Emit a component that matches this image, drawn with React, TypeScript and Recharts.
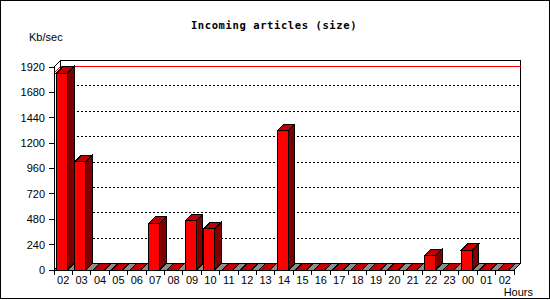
import React from 'react';
import { BarChart, Bar, XAxis, YAxis, CartesianGrid, ReferenceArea, ReferenceLine } from 'recharts';

const hours = ['02','03','04','05','06','07','08','09','10','11','12','13','14','15','16','17','18','19','20','21','22','23','00','01','02'];
const sizeKbps = [1863,1024,0,0,0,441,0,466,391,0,0,0,1315,0,0,0,0,0,0,0,135,0,186,0,0];
const yTicks = [0,240,480,720,960,1200,1440,1680,1920];

const data = hours.map((h, i) => ({ hour: h, size: sizeKbps[i] }));
const maxVal = Math.max(...sizeKbps);

const W = 550;
const H = 300;
const D = 6.5;
const PLOT_W = 460;
const BAND = PLOT_W / hours.length;
const FONT = '"Liberation Sans", Arial, sans-serif';

const FRONT = '#ff0000';
const TOP = '#c00000';
const SIDE = '#800000';
const FLOOR = '#8c8c8c';

function Bar3D(props: any) {
  const { x, y, width, height } = props;
  if (x == null || y == null) return null;
  const x0 = x - 1.5;
  const w = width;
  const h = Math.max(0, height || 0);
  const top = `${x0},${y} ${x0 + D},${y - D} ${x0 + w + D},${y - D} ${x0 + w},${y}`;
  const side = `${x0 + w},${y} ${x0 + w + D},${y - D} ${x0 + w + D},${y + h - D} ${x0 + w},${y + h}`;
  return (
    <g>
      {h > 0 && <polygon points={side} fill={SIDE} stroke="#000" strokeWidth={1} />}
      <polygon points={top} fill={TOP} stroke="#000" strokeWidth={1} />
      {h > 0 && <rect x={x0} y={y} width={w} height={h} fill={FRONT} stroke="#000" strokeWidth={1} />}
    </g>
  );
}

function Frame3D(props: any) {
  const { x, y, width, height } = props;
  const b = y + height;
  const floor = `${x},${b} ${x + width},${b} ${x + width + D},${b - D} ${x + D},${b - D}`;
  return (
    <g>
      <polygon points={floor} fill={FLOOR} stroke="#000" strokeWidth={1} />
      <line x1={x + D} y1={y - D} x2={x + width + D} y2={y - D} stroke="#000" />
      <line x1={x + width + D} y1={y - D} x2={x + width + D} y2={b - D} stroke="#000" />
      <line x1={x + D} y1={y - D} x2={x + D} y2={b - D} stroke="#000" />
      <line x1={x} y1={y} x2={x + D} y2={y - D} stroke="#000" />
    </g>
  );
}

function MaxLine(props: any) {
  const { x1, y1, x2, y2 } = props;
  return (
    <g>
      <line x1={x1} y1={y1} x2={x1 + D} y2={y1 - D} stroke="#ff0000" />
      <line x1={x1 + D} y1={y1 - D} x2={x2 + D} y2={y2 - D} stroke="#ff0000" />
    </g>
  );
}

function GridLine(props: any) {
  const { x1, y1, x2, y2, y, height, index } = props;
  if (Math.abs(y1 - y) < 1 || Math.abs(y1 - (y + height)) < 1) return <g key={`g${index}`} />;
  return (
    <line key={`g${index}`} x1={x1 + D} y1={y1 - D} x2={x2 + D} y2={y2 - D} stroke="#000" strokeDasharray="2 2" />
  );
}

function HourTick(props: any) {
  const { x, y, payload, index } = props;
  const axisY = y - 6;
  const left = x - BAND / 2;
  return (
    <g>
      <line x1={left} y1={axisY} x2={left} y2={axisY + 5} stroke="#000" />
      {index === hours.length - 1 && (
        <line x1={x + BAND / 2} y1={axisY} x2={x + BAND / 2} y2={axisY + 5} stroke="#000" />
      )}
      <text x={x} y={y} dy="0.71em" textAnchor="middle" fontFamily={FONT} fontSize={11} fill="#000" style={{ shapeRendering: 'auto' }}>
        {payload.value}
      </text>
    </g>
  );
}

export default function App() {
  return (
    <div style={{ position: 'absolute', left: 0, top: 0, width: W, height: H, background: '#fff', shapeRendering: 'crispEdges' }}>
      <BarChart width={W} height={H} data={data} margin={{ top: 67, right: 36, bottom: 0, left: 0 }} barSize={11}>
        <CartesianGrid vertical={false} horizontal={GridLine as any} />
        <ReferenceArea y1={0} y2={1920} shape={Frame3D as any} zIndex={-50} ifOverflow="visible" />
        <ReferenceLine y={maxVal} shape={MaxLine as any} zIndex={-40} ifOverflow="visible" />
        <XAxis
          dataKey="hour"
          interval={0}
          height={30}
          axisLine={{ stroke: '#000' }}
          tickLine={{ stroke: 'none' }}
          tickSize={5}
          tickMargin={1}
          tick={HourTick as any}
        />
        <YAxis
          type="number"
          domain={[0, 1920]}
          ticks={yTicks}
          interval={0}
          width={54}
          axisLine={{ stroke: '#000' }}
          tickLine={{ stroke: '#000' }}
          tickSize={5}
          tickMargin={4}
          tick={{ fontFamily: FONT, fontSize: 11, fill: '#000' }}
        />
        <Bar dataKey="size" isAnimationActive={false} shape={Bar3D as any} />
      </BarChart>
      <svg width={W} height={H} style={{ position: 'absolute', left: 0, top: 0, pointerEvents: 'none' }}>
        <rect x={0.5} y={0.5} width={549} height={298} fill="none" stroke="#000" />
        <text x={274} y={29} textAnchor="middle" fontFamily='"DejaVu Sans Mono", monospace' fontWeight="bold" fontSize={10.5} letterSpacing={0.6} fill="#000">
          Incoming articles (size)
        </text>
        <text x={29} y={40.5} fontFamily={FONT} fontSize={11} fill="#000">Kb/sec</text>
        <text x={533} y={296} textAnchor="end" fontFamily={FONT} fontSize={11} fill="#000">Hours</text>
      </svg>
    </div>
  );
}
